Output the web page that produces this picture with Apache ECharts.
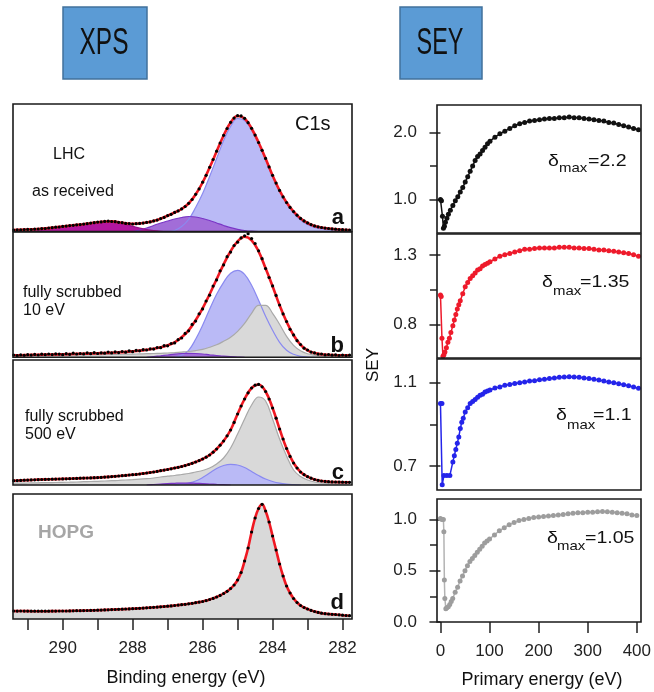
<!DOCTYPE html>
<html>
<head>
<meta charset="utf-8">
<script src="https://cdn.jsdelivr.net/npm/echarts@6/dist/echarts.min.js"></script>
<style>
  html, body { margin: 0; background: #fff; }
  #chart { width: 654px; height: 692px; }
</style>
</head>
<body>
<div id="chart"></div>
<script>
// ---- XPS: binding energy grids (eV) ----
const energyPts = [
  291.4,291.3,291.2,291.1,291.0,290.9,290.8,290.7,290.6,290.5,
  290.4,290.3,290.2,290.1,290.0,289.9,289.8,289.7,289.6,289.5,
  289.4,289.3,289.2,289.1,289.0,288.9,288.8,288.7,288.6,288.5,
  288.4,288.3,288.2,288.1,288.0,287.9,287.8,287.7,287.6,287.5,
  287.4,287.3,287.2,287.1,287.0,286.9,286.8,286.7,286.6,286.5,
  286.4,286.3,286.2,286.1,286.0,285.9,285.8,285.7,285.6,285.5,
  285.4,285.3,285.2,285.1,285.0,284.9,284.8,284.7,284.6,284.5,
  284.4,284.3,284.2,284.1,284.0,283.9,283.8,283.7,283.6,283.5,
  283.4,283.3,283.2,283.1,283.0,282.9,282.8,282.7,282.6,282.5,
  282.4,282.3,282.2,282.1,282.0,281.9,281.8
];
const energyFit = [
  291.4,291.2,291.0,290.8,290.6,290.4,290.2,290.0,289.8,289.6,
  289.4,289.2,289.0,288.8,288.6,288.4,288.2,288.0,287.8,287.6,
  287.4,287.2,287.0,286.8,286.6,286.4,286.2,286.0,285.8,285.6,
  285.4,285.2,285.0,284.8,284.6,284.4,284.2,284.0,283.8,283.6,
  283.4,283.2,283.0,282.8,282.6,282.4,282.2,282.0,281.8
];
const bindingTicks = [282,283,284,285,286,287,288,289,290,291];
const bindingLabels = [282,284,286,288,290];

// ---- panel a: LHC as received (intensity, a.u.) ----
const ptsA = [
  1.4,1.7,1.6,1.9,2.1,2.0,2.4,2.5,2.9,3.0,
  3.5,3.8,4.3,4.5,5.1,5.4,5.9,6.2,6.7,6.9,
  7.4,7.8,8.4,8.8,9.4,9.6,10.1,10.3,10.0,9.8,
  9.2,8.8,8.1,8.0,7.5,7.8,8.1,8.4,9.1,9.6,
  10.6,11.4,12.9,14.1,15.9,17.2,19.1,20.6,22.6,25.0,
  28.2,32.0,37.2,42.6,49.3,56.2,64.2,72.0,80.3,88.4,
  96.2,103.0,109.2,113.4,115.8,115.6,113.2,108.8,103.2,96.4,
  89.0,81.2,73.1,64.6,56.2,48.4,41.1,34.6,29.0,24.1,
  19.9,16.3,13.1,10.6,8.6,6.9,5.6,4.7,4.0,3.4,
  3.0,2.6,2.3,2.0,1.8,1.6,1.5
];
const fitA = [
  1.5,1.7,2.0,2.3,2.8,3.4,4.2,5.0,5.8,6.6,
  7.3,8.3,9.3,10.0,10.1,9.3,8.2,7.6,8.0,9.0,
  10.5,12.8,15.8,19.0,22.5,28,37,49,64,80,
  96,109,115.5,113,103,89,73,56,41,29,
  20,13,8.5,5.5,4.0,3.0,2.3,1.8,1.5
];
const blueA = [
  null,null,null,null,null,null,null,null,null,null,
  null,null,null,null,null,null,null,null,null,null,
  null,null,0,1,5,12,24,38,55,73,
  91,105,113,111,102,88,72,55,40,28,
  18.5,11.5,7,4,2.5,1.8,1.3,1,0.8
];
const purpleA = [
  null,null,null,null,null,null,null,null,null,null,
  null,null,null,null,null,null,null,0,1.5,3.5,
  6,8.5,10.5,12.5,14,15,14.5,13,11,8.5,
  6,3.8,2.2,1.0,0.3,0,null,null,null,null,
  null,null,null,null,null,null,null,null,null
];
const magentaA = [
  null,null,0,1.0,1.8,2.6,3.5,4.4,5.3,6.2,
  7.0,8.0,8.8,9.3,9.3,8.5,7.0,5.2,3.3,1.8,
  0.8,0.2,0,null,null,null,null,null,null,null,
  null,null,null,null,null,null,null,null,null,null,
  null,null,null,null,null,null,null,null,null
];

// ---- panel b: fully scrubbed 10 eV ----
const ptsB = [
  2.3,1.6,2.4,2.0,2.6,2.2,2.9,2.3,3.1,2.6,
  3.3,2.7,3.4,3.2,2.6,3.6,3.0,4.1,3.3,3.8,
  3.4,4.4,3.6,4.6,3.8,4.5,4.1,5.2,4.4,5.4,
  4.7,5.8,5.1,6.4,5.6,6.9,6.5,7.6,7.3,8.4,
  8.2,9.8,9.6,11.6,11.5,13.8,14.4,17.6,19.3,23.9,
  26.5,32.9,36.2,43.5,48.4,56.3,62.1,71.2,77.4,86.5,
  92.4,100.6,105.2,111.8,115.1,119.4,121.5,123.6,118.7,113.8,
  106.5,98.6,88.7,79.8,71.4,61.9,52.3,43.4,35.8,28.0,
  22.4,16.6,12.8,9.1,7.3,5.2,4.4,3.2,3.3,2.4,
  2.8,2.1,2.5,1.8,2.2,1.7,2.1
];
const fitB = [
  2.0,2.1,2.3,2.5,2.7,2.8,2.9,3.0,3.2,3.4,
  3.6,3.8,4.0,4.3,4.6,5.0,5.4,6.0,6.7,7.6,
  8.6,10.0,12.0,15.0,20.0,27,37,49,63,78,
  93,106,116,120.5,117,106,89,71,52,35.5,
  22,12.5,7.0,4.2,3.0,2.5,2.2,2.0,2.0
];
const blueB = [
  null,null,null,null,null,null,null,null,null,null,
  null,null,null,null,null,null,null,null,null,null,
  null,null,null,0,2,7,18,32,48,63,
  75,84,87,83,72,57,41,27,15,7,
  3,1,0.3,0,null,null,null,null,null
];
const grayB = [
  1.5,1.6,1.7,1.8,1.9,2.0,2.1,2.2,2.3,2.4,
  2.5,2.6,2.7,2.8,2.9,3.0,3.1,3.2,3.4,3.6,
  3.8,4.0,4.3,4.7,5.2,5.8,6.7,8.0,10.0,12.5,
  16,20,26,34,44,52,52,44,33,21,
  12,6.5,3.5,2.2,1.5,1.2,1.0,1.0,1.0
];
const purpleB = [
  null,null,null,null,null,null,null,null,null,null,
  null,null,null,null,null,null,null,null,null,0,
  0.8,1.5,2.3,3.2,3.8,4.0,3.8,3.3,2.5,1.8,
  1.1,0.6,0.3,0,null,null,null,null,null,null,
  null,null,null,null,null,null,null,null,null
];

// ---- panel c: fully scrubbed 500 eV ----
const ptsC = [
  4.3,4.4,4.6,4.8,4.9,5.1,5.2,5.3,5.5,5.6,
  5.7,5.8,5.9,6.0,6.1,6.2,6.3,6.5,6.6,6.8,
  6.9,7.0,7.1,7.3,7.4,7.6,7.9,8.1,8.4,8.7,
  9.0,9.3,9.6,10.0,10.3,10.6,11.0,11.5,12.0,12.5,
  13.0,13.6,14.3,14.9,15.5,16.2,17.0,17.7,18.5,19.4,
  20.5,21.7,23.0,24.4,26.0,27.8,30.0,32.8,36.0,39.8,
  44.0,49.2,55.0,62.6,71.0,79.0,86.0,92.2,97.0,99.8,
  100.6,98.2,93.5,86.0,77.0,66.8,56.0,46.0,36.5,28.6,
  22.0,17.0,13.0,10.3,8.3,6.8,5.5,4.7,4.0,3.6,
  3.3,3.1,3.0,2.9,2.8,2.7,2.7
];
const fitC = [
  4.3,4.6,4.9,5.2,5.5,5.7,5.9,6.1,6.3,6.6,
  6.9,7.1,7.4,7.9,8.4,9.0,9.6,10.3,11.0,12.0,
  13.0,14.3,15.5,17.0,18.5,20.5,23.0,26.0,30.0,36.0,
  44,55,71,86,97,100.5,93.5,77,56,36.5,
  22,13,8.3,5.5,4.0,3.3,3.0,2.8,2.7
];
const grayC = [
  1.8,1.9,2.0,2.1,2.3,2.4,2.5,2.7,2.8,3.0,
  3.3,3.5,3.7,4.0,4.3,4.6,5.0,5.4,5.9,6.3,
  7.0,8.0,8.8,9.5,10.5,11.5,13.0,14.5,17.0,21.0,
  27,37,51,66,80,88,84,66,46,29,
  15,8.5,5.0,3.0,2.0,1.5,1.2,1.0,1.0
];
const blueC = [
  null,null,null,null,null,null,null,null,null,null,
  null,null,null,null,null,null,null,null,null,null,
  null,null,null,0,0.8,2,4,7.5,12,16.5,
  19.5,20.7,20,17.5,13.5,9.5,6,3.5,1.8,0.8,
  0.3,0,null,null,null,null,null,null,null
];
const purpleC = [
  null,null,null,null,null,null,null,null,null,null,
  null,null,null,null,null,null,null,null,null,0,
  0.5,1.0,1.4,1.7,1.9,1.9,1.7,1.4,1.0,0.6,
  0.3,0,null,null,null,null,null,null,null,null,
  null,null,null,null,null,null,null,null,null
];

// ---- panel d: HOPG ----
const ptsD = [
  8.0,7.9,8.0,7.9,7.9,7.8,7.8,7.8,7.8,7.8,
  7.8,7.9,7.9,8.0,8.0,8.0,8.1,8.2,8.3,8.3,
  8.4,8.5,8.6,8.7,8.8,8.9,9.1,9.2,9.4,9.5,
  9.7,9.8,10.0,10.1,10.3,10.5,10.7,10.9,11.2,11.4,
  11.7,11.9,12.2,12.5,12.8,13.1,13.5,13.9,14.3,14.7,
  15.2,15.7,16.3,16.9,17.5,18.4,19.5,20.6,22.0,23.6,
  25.5,27.7,30.5,34.0,39.0,46.5,58.0,71.0,87.0,101.0,
  110.5,114.7,108.0,97.0,83.0,69.0,55.0,43.0,33.0,26.0,
  20.5,16.5,13.5,11.5,10.0,8.6,7.5,6.6,5.8,5.3,
  5.0,4.7,4.5,4.2,3.8,3.5,3.3
];

// ---- SEY curves: [primary energy (eV), SEY] ----
const seyLHC = [[0,1.00],[2,0.98],[4,0.75],[6,0.57],[8,0.60],[10,0.66],[13,0.72],[16,0.78],[20,0.84],[25,0.91],[30,0.98],[35,1.04],[40,1.11],[45,1.18],[50,1.26],[55,1.34],[60,1.42],[65,1.50],[70,1.58],[75,1.64],[80,1.68],[85,1.73],[90,1.78],[95,1.83],[100,1.87],[110,1.93],[120,1.98],[130,2.02],[140,2.06],[150,2.10],[160,2.13],[170,2.15],[180,2.17],[190,2.18],[200,2.19],[210,2.20],[220,2.21],[230,2.21],[240,2.22],[250,2.22],[260,2.23],[270,2.22],[280,2.22],[290,2.21],[300,2.20],[310,2.19],[320,2.18],[330,2.17],[340,2.15],[350,2.14],[360,2.12],[370,2.10],[380,2.08],[390,2.06],[400,2.04]];
const sey10eV = [[0,1.01],[1.5,1.00],[3,0.70],[5,0.57],[7,0.58],[9,0.60],[12,0.63],[15,0.67],[18,0.70],[21,0.74],[25,0.79],[28,0.83],[31,0.87],[34,0.91],[37,0.94],[40,0.97],[45,1.02],[50,1.07],[55,1.10],[60,1.13],[65,1.15],[70,1.17],[75,1.19],[80,1.20],[85,1.22],[90,1.23],[95,1.24],[100,1.25],[110,1.27],[120,1.29],[130,1.30],[140,1.31],[150,1.32],[160,1.33],[170,1.34],[180,1.34],[190,1.345],[200,1.35],[210,1.35],[220,1.35],[230,1.35],[240,1.355],[250,1.355],[260,1.355],[270,1.35],[280,1.35],[290,1.345],[300,1.345],[310,1.34],[320,1.335],[330,1.335],[340,1.33],[350,1.325],[360,1.32],[370,1.315],[380,1.31],[390,1.30],[400,1.29]];
const sey500eV = [[0,1.00],[3,1.00],[3.5,0.61],[7,0.655],[13,0.655],[19,0.655],[25,0.72],[28,0.75],[31,0.78],[34,0.81],[37,0.84],[40,0.88],[43,0.91],[46,0.93],[50,0.96],[55,0.98],[60,1.00],[65,1.01],[70,1.02],[75,1.03],[80,1.04],[85,1.045],[90,1.055],[95,1.06],[100,1.065],[110,1.075],[120,1.08],[130,1.088],[140,1.092],[150,1.096],[160,1.10],[170,1.104],[180,1.108],[190,1.11],[200,1.114],[210,1.117],[220,1.12],[230,1.123],[240,1.126],[250,1.128],[260,1.129],[270,1.128],[280,1.126],[290,1.123],[300,1.12],[310,1.117],[320,1.113],[330,1.108],[340,1.104],[350,1.10],[360,1.095],[370,1.09],[380,1.086],[390,1.08],[400,1.073]];
const seyHOPG = [[0,1.01],[3,1.00],[6,1.00],[7,0.88],[8,0.41],[9,0.23],[11,0.13],[13,0.14],[16,0.15],[19,0.17],[22,0.20],[25,0.23],[30,0.29],[35,0.34],[40,0.40],[45,0.45],[50,0.50],[55,0.55],[60,0.59],[65,0.62],[70,0.65],[75,0.68],[80,0.71],[85,0.74],[90,0.77],[95,0.79],[100,0.81],[110,0.85],[120,0.89],[130,0.92],[140,0.95],[150,0.97],[160,0.99],[170,1.00],[180,1.01],[190,1.02],[200,1.025],[210,1.03],[220,1.035],[230,1.04],[240,1.045],[250,1.05],[260,1.055],[270,1.06],[280,1.065],[290,1.065],[300,1.07],[310,1.07],[320,1.075],[330,1.077],[340,1.075],[350,1.07],[360,1.065],[370,1.06],[380,1.055],[390,1.045],[400,1.04]];
const primaryTicks = [0,100,200,300,400];
const seyMajor = [[1.0,2.0],[0.8,1.3],[0.7,1.1],[0.0,0.5,1.0]];
const seyMinor = [[1.5],[1.05],[0.9],[0.25,0.75]];
const seyRange = [[0.5,2.41],[0.557,1.45],[0.585,1.214],[0,1.2]];
const deltaMax = ['2.2','1.35','1.1','1.05'];

const FONT = "'Liberation Sans', Arial, Helvetica, sans-serif";
const zip = (xs, ys) => xs.map((x, i) => [x, ys[i]]);

const chart = echarts.init(document.getElementById('chart'));

const xpsBoxes = [
  {top: 104, height: 127.5},
  {top: 232, height: 125.3},
  {top: 360, height: 125},
  {top: 494, height: 125}
];
const seyBoxes = [
  {top: 105, height: 128},
  {top: 234, height: 124},
  {top: 359, height: 131},
  {top: 499, height: 123}
];

const grids = [], xAxes = [], yAxes = [], series = [], graphics = [];

xpsBoxes.forEach((b, i) => {
  grids.push({left: 13, width: 339, top: b.top, height: b.height});
  const bottom = i === 3;
  xAxes.push({
    gridIndex: i, type: 'value', inverse: true, min: 281.73, max: 291.42,
    axisLine: {show: false}, splitLine: {show: false},
    axisTick: {show: bottom, length: 11, customValues: bindingTicks, lineStyle: {color: '#222', width: 1.5}},
    axisLabel: {show: bottom, customValues: bindingLabels, margin: 21, fontSize: 17, color: '#222', fontFamily: FONT}
  });
  yAxes.push({gridIndex: i, type: 'value', min: 0, max: b.height, show: false});
});

seyBoxes.forEach((b, i) => {
  const g = 4 + i;
  grids.push({left: 437, width: 204, top: b.top, height: b.height});
  const bottom = i === 3;
  xAxes.push({
    gridIndex: g, type: 'value', min: -7, max: 405,
    axisLine: {show: false}, splitLine: {show: false},
    axisTick: {show: bottom, length: 11, customValues: primaryTicks, lineStyle: {color: '#222', width: 1.5}},
    axisLabel: {show: bottom, customValues: primaryTicks, margin: 21, fontSize: 17, color: '#222', fontFamily: FONT}
  });
});
seyBoxes.forEach((b, i) => {
  yAxes.push({
    gridIndex: 4 + i, type: 'value', position: 'left', min: seyRange[i][0], max: seyRange[i][1],
    axisLine: {show: false}, splitLine: {show: false},
    axisTick: {length: 11, customValues: seyMajor[i], lineStyle: {color: '#222', width: 1.5}},
    axisLabel: {customValues: seyMajor[i], margin: 20, fontSize: 17, color: '#222', fontFamily: FONT,
      formatter: v => Number(v).toFixed(1)}
  });
});
seyBoxes.forEach((b, i) => {
  yAxes.push({
    gridIndex: 4 + i, type: 'value', position: 'left', min: seyRange[i][0], max: seyRange[i][1],
    axisLine: {show: false}, splitLine: {show: false},
    axisTick: {length: 7, customValues: seyMinor[i], lineStyle: {color: '#222', width: 1.5}},
    axisLabel: {show: false}
  });
});

function comp(p, xs, ys, fill, edge) {
  series.push({
    type: 'line', xAxisIndex: p, yAxisIndex: p, data: zip(xs, ys), smooth: 0.4,
    showSymbol: false, silent: true, connectNulls: false, z: 2,
    lineStyle: {color: edge, width: 1.2}, areaStyle: {color: fill, opacity: 1}
  });
}
function fit(p, xs, ys) {
  series.push({
    type: 'line', xAxisIndex: p, yAxisIndex: p, data: zip(xs, ys), smooth: 0.4,
    showSymbol: false, silent: true, z: 3, lineStyle: {color: '#f01822', width: 2.6}
  });
}
function dots(p, ys) {
  series.push({
    type: 'scatter', xAxisIndex: p, yAxisIndex: p, data: zip(energyPts, ys), z: 6,
    symbol: 'circle', symbolSize: 3.2, silent: true, itemStyle: {color: '#000', opacity: 1}
  });
}

const BLUE = '#babaf6', BLUE_E = '#8a8af0';
const PURPLE = '#a26dd8', PURPLE_E = '#7a36c6';
const MAGENTA = '#b3169e', MAGENTA_E = '#96108a';
const GRAY = '#d9d9d9', GRAY_E = '#a9a9a9';

// a
comp(0, energyFit, blueA, BLUE, BLUE_E);
comp(0, energyFit, purpleA, PURPLE, PURPLE_E);
comp(0, energyFit, magentaA, MAGENTA, MAGENTA_E);
fit(0, energyFit, fitA);
dots(0, ptsA);
// b
comp(1, energyFit, blueB, BLUE, BLUE_E);
comp(1, energyFit, grayB, GRAY, GRAY_E);
comp(1, energyFit, purpleB, PURPLE, PURPLE_E);
fit(1, energyFit, fitB);
dots(1, ptsB);
// c
comp(2, energyFit, grayC, GRAY, GRAY_E);
comp(2, energyFit, blueC, BLUE, BLUE_E);
comp(2, energyFit, purpleC, PURPLE, PURPLE_E);
fit(2, energyFit, fitC);
dots(2, ptsC);
// d
series.push({type: 'line', xAxisIndex: 3, yAxisIndex: 3, data: zip(energyPts, ptsD), smooth: 0.3, z: 2,
  showSymbol: false, silent: true, lineStyle: {width: 0}, areaStyle: {color: GRAY, opacity: 1}});
fit(3, energyPts, ptsD);
dots(3, ptsD);

// SEY
const seySets = [seyLHC, sey10eV, sey500eV, seyHOPG];
const seyColors = ['#111111', '#ee1a2b', '#2424ea', '#9d9d9d'];
const seyLines = ['#111111', '#ee1a2b', '#2424ea', '#b3b3b3'];
seySets.forEach((d, i) => {
  series.push({
    type: 'line', xAxisIndex: 4 + i, yAxisIndex: 4 + i, data: d, silent: true,
    symbol: 'circle', symbolSize: 5, showSymbol: true,
    itemStyle: {color: seyColors[i]}, lineStyle: {color: seyLines[i], width: 1.5}
  });
});

// frames
function frame(x, y, w, h) {
  graphics.push({type: 'rect', z: 50, silent: true, shape: {x, y, width: w, height: h},
    style: {fill: null, stroke: '#1a1a1a', lineWidth: 1.6}});
}
xpsBoxes.forEach(b => frame(13, b.top, 339, b.height));
seyBoxes.forEach(b => frame(437, b.top, 204, b.height));

function txt(s, x, base, size, o) {
  o = o || {};
  graphics.push({
    type: 'text', z: 60, silent: true, x: x, y: base - 0.35 * size,
    scaleX: o.sx || 1, rotation: o.rot || 0,
    style: {text: s, fontSize: size, fontFamily: FONT, fontWeight: o.bold ? 'bold' : 'normal',
      fill: o.color || '#111', align: o.align || 'left', textAlign: o.align || 'left',
      verticalAlign: 'middle', textVerticalAlign: 'middle'}
  });
}

// header boxes
graphics.push({type: 'rect', z: 40, shape: {x: 63, y: 7, width: 84, height: 72},
  style: {fill: '#5b9bd5', stroke: '#41719c', lineWidth: 1.5}});
graphics.push({type: 'rect', z: 40, shape: {x: 400, y: 7, width: 82, height: 72},
  style: {fill: '#5b9bd5', stroke: '#41719c', lineWidth: 1.5}});
txt('XPS', 104, 57, 36, {sx: 0.68, align: 'center'});
txt('SEY', 440, 57, 36, {sx: 0.65, align: 'center'});

// XPS annotations
txt('C1s', 295, 131, 20);
txt('LHC', 53, 160, 16);
txt('as received', 32, 196.7, 16);
txt('fully scrubbed', 23, 297.7, 16);
txt('10 eV', 23, 315.7, 16);
txt('fully scrubbed', 25, 421.7, 16);
txt('500 eV', 25, 440, 16);
txt('HOPG', 38, 539.3, 19, {bold: true, color: '#a6a6a6'});
txt('a', 344, 225.5, 22, {bold: true, align: 'right'});
txt('b', 344, 353.3, 22, {bold: true, align: 'right'});
txt('c', 344, 481, 22, {bold: true, align: 'right'});
txt('d', 344, 611, 22, {bold: true, align: 'right'});

// delta_max annotations
const deltaPos = [
  {d: 548, m: 559, v: 588, base: 167.3, sub: 173.3},
  {d: 542, m: 553, v: 580, base: 288.3, sub: 296},
  {d: 556, m: 567, v: 593, base: 421.7, sub: 429.5},
  {d: 547, m: 557, v: 585, base: 544.3, sub: 551}
];
deltaPos.forEach((p, i) => {
  txt('\u03b4', p.d, p.base, 17, {sx: 1.15});
  txt('max', p.m, p.sub, 13, {sx: 1.15});
  txt('=' + deltaMax[i], p.v, p.base, 17, {sx: 1.15});
});

// axis titles
txt('Binding energy (eV)', 186, 684.3, 18, {align: 'center'});
txt('Primary energy (eV)', 542, 686.7, 18, {align: 'center'});
graphics.push({type: 'text', z: 60, x: 373, y: 365, rotation: Math.PI / 2,
  style: {text: 'SEY', fontSize: 17, fontFamily: FONT, fill: '#111', align: 'center', textAlign: 'center',
    verticalAlign: 'middle', textVerticalAlign: 'middle'}});

chart.setOption({
  backgroundColor: '#ffffff',
  animation: false,
  grid: grids,
  xAxis: xAxes,
  yAxis: yAxes,
  series: series,
  graphic: graphics
});
</script>
</body>
</html>
